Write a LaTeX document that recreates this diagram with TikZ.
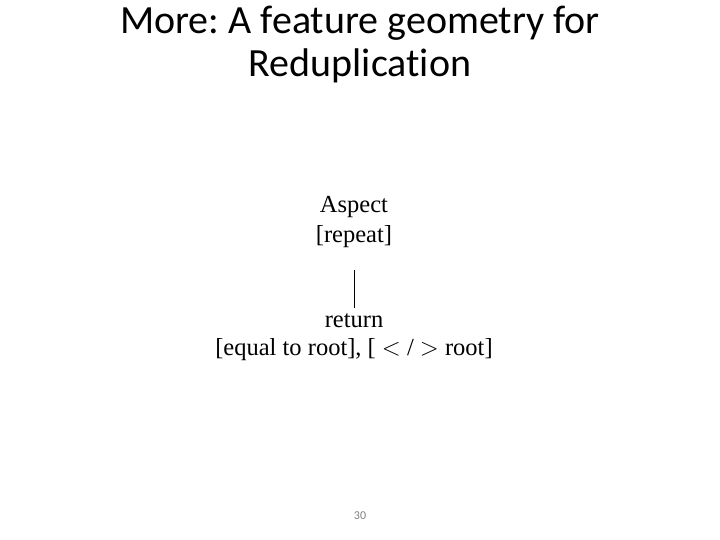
\documentclass[tikz,border=0pt]{standalone}
\usepackage{fontspec}
\setmainfont{Liberation Serif}
\newfontfamily\titlefont[Ligatures=NoCommon]{Carlito}
\frenchspacing
\tikzset{
  titletext/.style={font=\titlefont\fontsize{40}{46}\selectfont, anchor=base, inner sep=0pt},
  feat/.style={font=\fontsize{24.5}{28}\selectfont, anchor=base, inner sep=0pt},
  pagenum/.style={font=\titlefont\fontsize{12}{14}\selectfont, text=gray, anchor=base, inner sep=0pt},
  branch/.style={line width=1pt}
}
\begin{document}
\begin{tikzpicture}[x=1pt,y=-1pt]
\useasboundingbox (0,0) rectangle (720,540);
\node[titletext] (t1) at (360,34) {More: A feature geometry for};
\node[titletext] (t2) at (360,77) {Reduplication};
\node[feat] (asp) at (354,213) {Aspect};
\node[feat] (rep) at (354,243) {[repeat]};
\coordinate (top) at (354,270);
\coordinate (bot) at (354,308);
\draw[branch] (top) -- (bot);
\node[feat] (ret) at (354,327) {return};
\node[feat] (eq) at (354,355) {[equal to root], [ $<$ / $>$ root]};
\node[pagenum] (pg) at (360,519) {30};
\end{tikzpicture}
\end{document}
